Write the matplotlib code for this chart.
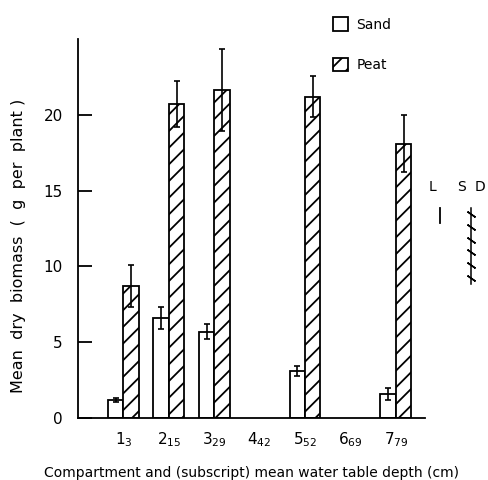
import numpy as np
import matplotlib.pyplot as plt
from matplotlib.patches import Patch

# compartments, water table depth (cm) and mean dry biomass (g per plant)
compartment = [1, 2, 3, 4, 5, 6, 7]
depth = [3, 15, 29, 42, 52, 69, 79]
sand = [1.2, 6.6, 5.7, 0, 3.1, 0, 1.6]
sand_err = [0.15, 0.7, 0.5, 0, 0.35, 0, 0.4]
peat = [8.7, 20.7, 21.6, 0, 21.2, 0, 18.1]
peat_err = [1.4, 1.5, 2.7, 0, 1.35, 0, 1.9]
lsd_sand = 1.0
lsd_peat = 5.0

plt.rcParams['font.family'] = 'DejaVu Sans'
plt.rcParams['hatch.linewidth'] = 1.3

fig = plt.figure(figsize=(4.89, 4.80), dpi=100)
ax = fig.add_axes([0.1595, 0.129, 0.7095, 0.79])

x = np.array(compartment, dtype=float)
w = 0.34
has = np.array(sand) > 0
ax.bar(x[has] - w / 2, np.array(sand)[has], w, color='white', edgecolor='black', linewidth=1.3)
ax.bar(x[has] + w / 2, np.array(peat)[has], w, color='white', edgecolor='black', linewidth=1.3, hatch='//')
ax.errorbar(x[has] - w / 2, np.array(sand)[has], yerr=np.array(sand_err)[has], fmt='none',
            ecolor='black', elinewidth=1.2, capsize=2.5, capthick=1.2)
ax.errorbar(x[has] + w / 2, np.array(peat)[has], yerr=np.array(peat_err)[has], fmt='none',
            ecolor='black', elinewidth=1.2, capsize=2.5, capthick=1.2)

ax.set_xlim(0, 7.64)
ax.set_ylim(0, 25)
ax.set_xticks(x)
ax.set_xticklabels(['$%d_{%d}$' % (c, d) for c, d in zip(compartment, depth)], fontsize=11)
ax.tick_params(axis='x', length=0, pad=9)
ax.set_yticks([0, 5, 10, 15, 20])
ax.tick_params(axis='y', direction='in', length=10, width=1.3, pad=11, labelsize=11)
for s in ['top', 'right']:
    ax.spines[s].set_visible(False)
for s in ['left', 'bottom']:
    ax.spines[s].set_linewidth(1.3)

ax.set_xlabel('Compartment and (subscript) mean water table depth (cm)', fontsize=10, labelpad=12)
ax.set_ylabel('Mean  dry  biomass  (  g  per  plant )', fontsize=11.5)
ax.yaxis.set_label_coords(-0.15, 0.455)

# LSD bars at the right
top = 13.85
ax.text(7.81, 14.8, 'L', fontsize=10, ha='center', va='bottom', clip_on=False)
ax.text(8.45, 14.8, 'S', fontsize=10, ha='center', va='bottom', clip_on=False)
ax.text(8.85, 14.8, 'D', fontsize=10, ha='center', va='bottom', clip_on=False)
ax.plot([7.98, 7.98], [top, top - lsd_sand], color='black', lw=1.3, clip_on=False)
ax.plot([8.65, 8.65], [top, top - lsd_peat], color='black', lw=1.1, clip_on=False)
zy = np.linspace(top - 0.4, top - lsd_peat + 0.4, 6)
ax.plot(np.full(6, 8.65), zy, ls='none', marker=(2, 2, 55), ms=7, mew=1.1, color='black', clip_on=False)

handles = [Patch(facecolor='white', edgecolor='black', linewidth=1.3, label='Sand'),
           Patch(facecolor='white', edgecolor='black', linewidth=1.3, hatch='//', label='Peat')]
fig.legend(handles=handles, loc='upper left', bbox_to_anchor=(0.655, 0.99), frameon=False,
           fontsize=10, handlelength=1.1, handleheight=1.1, handletextpad=0.6, labelspacing=1.9)

fig.savefig('out.png', dpi=100)
